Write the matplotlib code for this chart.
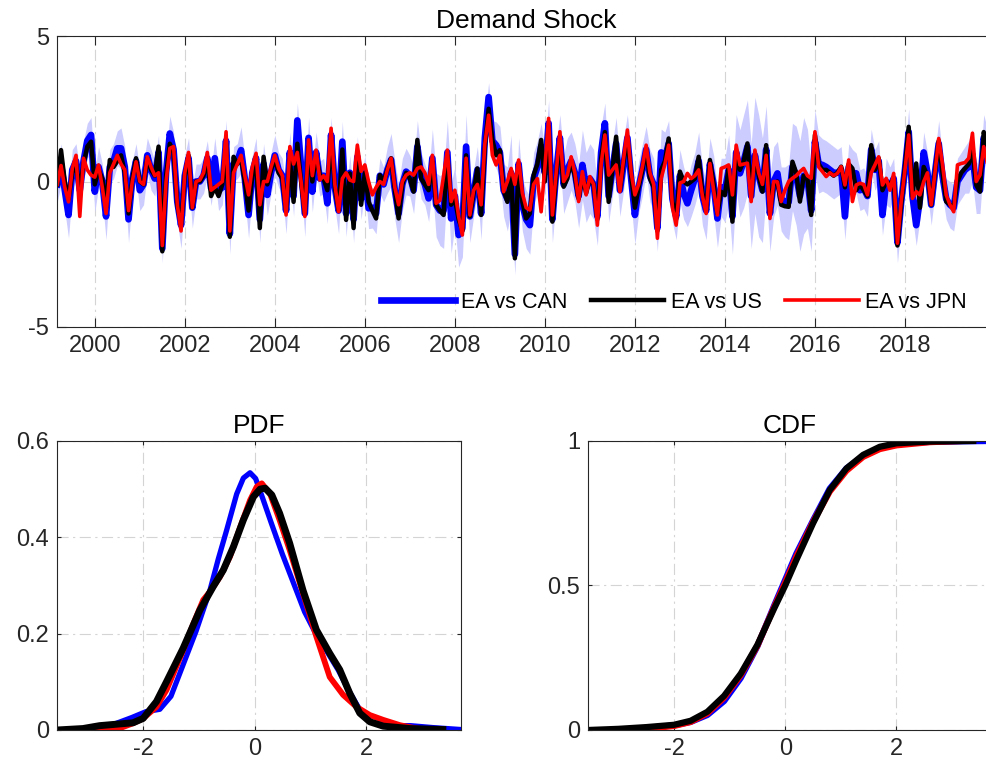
import numpy as np
import matplotlib
matplotlib.use('Agg')
import matplotlib.pyplot as plt

plt.rcParams['font.family'] = ['Liberation Sans', 'DejaVu Sans']
plt.rcParams['axes.unicode_minus'] = False

# monthly shocks, Feb 1999 onwards
ea_can = [
    -0.1, 0.6, -0.3, -1.15, 0.4, 0.7, -0.3, 0.7, 1.4, 1.6, -0.35, 0.5,
    0.0, -1.2, 0.5, 0.7, 1.14, 1.14, 0.5, -1.3, 0.1, 0.7, -0.3, -0.1,
    0.9, 0.4, 0.1, 1.0, -2.3, 0.3, 1.65, 1.1, -0.7, -1.5, 0.2, 0.8,
    -0.9, 0.0, 0.0, 0.2, 0.8, -0.23, 0.8, -0.3, -0.2, 1.4, -1.8, 0.6,
    0.7, 1.08, 0.1, -1.15, 0.3, 0.8, -1.3, 0.6, -0.46, 0.3, 0.9, 0.4,
    0.2, -1.0, 1.0, -0.5, 2.1, 0.5, -1.1, 1.5, -0.35, 1.0, 0.1, 0.2,
    -0.75, 1.6, -0.2, -1.0, 1.37, -1.1, 0.3, -1.3, 0.85, -0.6, 0.3, -0.92,
    -0.9, -1.1, 0.2, -0.1, 0.4, 0.75, -0.3, -1.1, -0.1, 0.34, 0.2, -0.3,
    1.2, 0.2, -0.1, -0.58, 0.8, -0.8, -1.0, -1.0, 1.0, -1.27, -0.5, -1.84,
    -1.6, 1.2, -1.2, -0.4, 0.4, -1.1, 1.5, 2.9, 1.4, 1.25, 1.0, -0.3,
    -0.6, 0.3, -2.5, 0.6, -0.8, -1.3, -1.5, 0.1, 0.5, 1.2, 0.3, 2.0,
    -1.3, 0.3, 1.5, -0.1, 0.4, 0.7, 0.3, -0.5, 0.57, -0.2, 0.1, -0.1,
    -1.2, 1.0, 2.0, -0.5, 0.4, 1.3, -0.3, 0.6, 1.5, 0.1, -1.15, -0.2,
    0.4, 1.1, 0.2, -0.1, -1.6, 1.0, 0.8, 1.3, -0.6, -1.2, 0.2, -0.4,
    -0.75, -0.3, 0.1, 0.7, -0.5, -1.0, 0.6, -0.1, -1.27, -0.2, -0.3, 0.4,
    -1.2, 1.0, 0.28, 0.7, 1.2, -0.5, 0.9, 0.2, -0.3, 1.1, -1.1, 0.0,
    0.28, -0.6, -0.7, -0.7, 0.5, 0.2, -0.5, 0.2, 0.1, -1.0, 1.37, 0.6,
    0.57, 0.5, 0.4, 0.3, 0.3, 0.4, -1.2, 0.5, 0.3, 0.28, -0.3, -0.23,
    -0.5, 1.1, 0.4, 0.7, -1.15, 0.0, -0.2, 0.1, -2.1, -0.7, 0.4, 1.7,
    -0.5, -1.5, -0.6, 1.0, 0.3, -0.8, 0.3, 1.3, 0.2, -0.6, -0.8, -0.9,
    0.0, 0.2, 0.4, 0.5, 0.9, -0.2, -0.3, 1.5, 1.0, 0.3, 0.5,
]
ea_us = [
    -0.1, 1.08, 0.0, -0.6, 0.3, 0.6, -0.3, 0.6, 1.2, 1.37, -0.1, 0.4,
    0.1, -0.9, 0.74, 0.5, 0.7, 0.9, 0.3, -1.1, 0.1, 0.8, 0.0, -0.1,
    0.8, 0.4, 0.2, 1.2, -2.4, 0.2, 1.3, 1.0, -0.8, -1.5, 0.2, 0.9,
    -0.9, 0.0, 0.0, 0.2, 0.8, -0.5, -0.2, -0.5, -0.1, 1.3, -1.9, 0.85,
    0.6, 0.8, 0.0, -1.0, 0.2, 0.7, -1.6, 0.85, -0.1, 0.4, 0.8, 0.3,
    0.1, -1.0, 0.8, -0.7, 1.3, 0.0, -1.1, 1.2, 0.0, 0.9, 0.22, 0.1,
    -0.3, 1.5, -0.2, -1.0, 1.1, -1.32, 0.28, -1.6, 0.9, -0.8, 0.3, -0.7,
    -1.0, -1.27, 0.22, 0.0, 0.4, 0.8, -0.3, -1.27, -0.1, 0.3, 0.1, -0.35,
    1.43, 0.1, -0.1, -0.3, 0.7, -0.8, -1.0, -1.15, 0.9, -0.8, -0.6, -1.3,
    -1.7, 0.9, -1.2, -0.4, 0.45, -1.15, 1.2, 2.5, 1.43, 0.9, 1.08, -0.3,
    -0.7, 0.3, -2.64, 0.6, -0.7, -1.27, -1.1, 0.22, 0.6, 1.43, 0.0, 1.9,
    -1.38, 0.2, 1.4, -0.18, 0.1, 0.7, 0.2, -0.6, 0.2, -0.4, 0.1, -0.1,
    -1.3, 0.8, 1.7, -0.7, 0.4, 1.54, -0.3, 0.7, 1.5, 0.2, -0.9, -0.2,
    0.4, 1.1, 0.1, -0.2, -1.7, 0.4, 0.7, 1.48, -0.7, -1.3, 0.34, 0.0,
    -0.1, 0.0, 0.1, 0.85, -0.4, -1.0, 0.74, -0.1, -1.1, -0.35, -0.47, 0.5,
    -1.38, 1.0, 0.4, 0.7, 1.31, -0.5, 0.9, 0.2, -0.35, 1.25, -1.1, -0.1,
    0.0, -0.8, -0.85, -0.87, 0.68, 0.3, -0.69, 0.2, 0.1, -1.15, 1.6, 0.6,
    0.4, 0.4, 0.3, 0.2, 0.3, 0.51, -0.2, 0.6, 0.45, -0.3, -0.1, -0.3,
    -0.5, 1.25, 0.4, 0.8, -0.3, 0.0, -0.12, 0.1, -2.2, -0.8, 0.5, 1.88,
    -0.5, 0.62, -0.9, 0.5, 0.2, -0.8, 0.3, 1.4, 0.3, -0.69, -0.8, -0.9,
    0.0, 0.3, 0.45, 0.6, 1.1, -0.12, -0.35, 1.7, 1.2, 0.4, 0.6,
]
ea_jpn = [
    -0.1, 0.55, -0.2, -0.7, 0.45, 0.9, -1.2, 0.8, 0.4, 0.22, 0.15, 0.57,
    -0.2, -1.1, 0.3, 0.6, 0.9, 0.6, 0.4, -1.0, 0.0, 0.68, 0.0, -0.1,
    0.85, 0.5, 0.2, 0.3, -2.2, 0.0, 1.14, 1.2, -0.8, -1.7, 0.3, 1.0,
    -0.9, 0.0, 0.05, 0.3, 1.0, -0.3, -0.2, -0.1, 0.0, 1.71, -1.7, 0.3,
    0.6, 0.9, 0.2, -0.46, 0.5, 0.97, -0.8, 0.0, 0.0, 0.5, 0.9, 0.45,
    0.2, -1.15, 1.2, 0.6, 1.0, 0.0, -1.2, 1.43, 0.2, 1.08, 0.05, 0.2,
    0.0, 1.83, -0.1, -1.04, 0.1, 0.3, 0.05, 0.0, 1.25, 0.35, 0.57, 0.0,
    -0.46, -0.2, 0.0, -0.1, 0.4, 0.8, -0.2, -0.8, 0.0, 0.22, 0.3, 0.22,
    0.45, 0.5, 0.3, -0.1, 0.9, -0.75, -0.65, 0.2, 1.08, -0.69, -0.3, -1.2,
    -1.84, 0.8, -1.15, -0.3, -0.1, -0.8, 1.3, 2.28, 0.9, 0.57, 0.9, -0.35,
    0.0, 0.45, -0.1, 0.74, -0.4, -0.9, -0.98, -0.1, 0.1, -1.04, 0.5, 2.17,
    -1.15, 0.3, 1.71, 0.0, 0.22, 0.85, 0.3, -0.69, 0.34, -0.46, 0.17, -0.1,
    -1.5, 0.6, 1.6, 0.22, 0.4, 0.57, -0.35, 0.8, 1.77, 0.3, -0.46, -0.1,
    0.5, 1.25, 0.3, -0.1, -1.95, 0.1, 0.6, 1.25, -0.9, -1.5, -0.05, 0.0,
    0.28, 0.1, 0.2, 0.4, -0.5, -1.1, 0.62, -0.3, -1.15, 0.45, 0.5, 0.57,
    -0.46, 1.25, 0.57, 0.6, 0.63, -0.69, 1.08, 0.3, -0.1, 0.9, -1.27, 0.0,
    -0.01, -0.69, -0.3, 0.0, 0.11, 0.2, 0.34, 0.45, 0.2, 0.11, 1.71, 0.5,
    0.34, 0.17, 0.3, 0.2, 0.28, 0.51, -0.12, 0.74, -0.69, -0.12, -0.06, -0.1,
    -0.46, 0.3, 0.57, 0.85, -0.12, 0.11, -0.3, 0.28, -2.12, -0.69, 0.4, 1.6,
    -0.58, -0.35, -0.46, 0.0, 0.3, -0.8, 0.3, 1.48, 0.6, -0.46, -0.8, -1.04,
    0.57, 0.62, 0.65, 0.8, 1.66, 0.0, 0.22, 1.2, 0.6, 0.3, 0.5,
]
# half-width of the shaded band around EA vs CAN
band_hw = [
    0.6, 0.7, 0.7, 0.8, 0.7, 0.6, 0.7, 0.7, 0.6, 0.6, 0.7, 0.7,
    0.6, 0.8, 0.6, 0.6, 0.6, 0.7, 0.7, 0.8, 0.6, 0.6, 0.7, 0.7,
    0.6, 0.7, 0.6, 0.6, 0.5, 0.6, 0.6, 0.6, 0.7, 0.8, 0.7, 0.7,
    0.7, 0.6, 0.6, 0.6, 0.6, 0.6, 0.7, 0.7, 0.6, 0.7, 0.7, 0.6,
    0.6, 0.8, 0.7, 0.8, 0.6, 0.7, 0.8, 0.7, 0.7, 0.7, 0.7, 0.6,
    0.6, 0.8, 0.7, 0.7, 0.6, 0.7, 0.8, 0.7, 0.7, 0.7, 0.6, 0.6,
    0.7, 0.6, 0.7, 0.8, 0.7, 0.8, 0.6, 0.8, 0.7, 0.7, 0.6, 0.7,
    0.7, 0.7, 0.6, 0.6, 0.8, 0.9, 1.0, 1.0, 0.9, 0.8, 0.7, 0.8,
    0.9, 0.8, 0.7, 0.8, 1.0, 1.1, 1.2, 1.3, 1.1, 1.2, 1.0, 1.1,
    1.0, 1.1, 0.9, 0.8, 0.8, 0.9, 0.7, 0.5, 0.7, 0.8, 0.9, 0.9,
    1.1, 1.3, 0.7, 0.9, 0.9, 1.0, 1.0, 0.9, 0.9, 0.8, 0.8, 0.8,
    0.8, 0.9, 0.8, 1.0, 1.1, 1.0, 1.0, 1.1, 1.2, 1.2, 1.2, 1.2,
    1.0, 0.9, 0.7, 0.9, 0.9, 0.9, 0.9, 0.9, 0.8, 0.9, 1.0, 0.9,
    0.9, 0.8, 0.9, 0.9, 0.8, 0.8, 0.9, 0.8, 0.8, 0.8, 0.9, 0.9,
    0.8, 0.9, 0.9, 1.0, 1.0, 1.0, 0.9, 1.0, 1.0, 1.0, 1.1, 1.2,
    1.3, 1.3, 1.5, 1.6, 1.6, 1.8, 2.0, 2.1, 1.8, 1.5, 1.3, 1.2,
    1.1, 1.1, 1.2, 1.3, 1.5, 1.7, 1.9, 2.0, 1.7, 1.4, 1.1, 1.0,
    0.9, 0.9, 0.9, 0.9, 0.8, 0.8, 0.8, 0.8, 0.8, 0.7, 0.7, 0.7,
    0.7, 0.7, 0.7, 0.7, 0.7, 0.8, 0.7, 0.7, 0.7, 0.7, 0.7, 0.8,
    0.7, 0.7, 0.7, 0.7, 0.7, 0.7, 0.7, 0.8, 0.7, 0.7, 0.8, 0.8,
    0.8, 0.8, 0.8, 0.9, 0.9, 0.9, 0.8, 0.8, 0.8, 0.8, 0.8,
]

# kernel density estimates
pdf_x_can = [-3.07, -2.8, -2.5, -2.2, -1.95, -1.7, -1.5, -1.3, -1.05, -0.8, -0.65,
             -0.5, -0.32, -0.2, -0.08, 0.02, 0.15, 0.3, 0.5, 0.7, 0.9, 1.1, 1.3,
             1.5, 1.7, 1.9, 2.1, 2.4, 2.8, 3.2, 3.7]
pdf_can = [0.0, 0.004, 0.013, 0.026, 0.038, 0.043, 0.07, 0.13, 0.205, 0.29, 0.355,
           0.415, 0.49, 0.523, 0.534, 0.522, 0.48, 0.43, 0.365, 0.305, 0.245, 0.2,
           0.163, 0.125, 0.08, 0.04, 0.016, 0.009, 0.009, 0.005, 0.001]
pdf_x_jpn = [-3.05, -2.48, -2.18, -2.0, -1.76, -1.58, -1.28, -1.1, -0.92, -0.8, -0.62,
             -0.44, -0.26, -0.08, 0.04, 0.13, 0.28, 0.45, 0.63, 0.87, 1.11, 1.35,
             1.59, 1.83, 2.07, 2.31, 2.61, 2.91, 3.15]
pdf_jpn = [0.0, 0.001, 0.014, 0.024, 0.048, 0.083, 0.166, 0.22, 0.27, 0.287, 0.318,
           0.36, 0.42, 0.477, 0.505, 0.512, 0.49, 0.436, 0.374, 0.284, 0.194, 0.11,
           0.073, 0.048, 0.031, 0.021, 0.01, 0.003, 0.0]
pdf_x_us = [-3.54, -3.08, -2.78, -2.48, -2.18, -2.0, -1.76, -1.58, -1.28, -0.98, -0.74,
            -0.56, -0.38, -0.2, -0.02, 0.1, 0.19, 0.31, 0.45, 0.63, 0.87, 1.11, 1.35,
            1.53, 1.71, 1.89, 2.07, 2.31, 2.79, 3.38]
pdf_us = [0.0, 0.003, 0.009, 0.012, 0.015, 0.024, 0.059, 0.1, 0.17, 0.249, 0.298,
          0.332, 0.38, 0.436, 0.484, 0.5, 0.502, 0.488, 0.45, 0.388, 0.29, 0.208, 0.159,
          0.125, 0.076, 0.035, 0.017, 0.008, 0.003, 0.001]

# cumulative distributions
cdf_x_can = [-3.07, -2.5, -2.0, -1.7, -1.4, -1.1, -0.8, -0.5, -0.2, 0.0, 0.2, 0.5,
             0.8, 1.1, 1.4, 1.7, 2.0, 2.6, 3.2, 3.7]
cdf_can = [0.0, 0.007, 0.016, 0.028, 0.052, 0.1, 0.18, 0.29, 0.43, 0.52, 0.61, 0.725,
           0.835, 0.905, 0.948, 0.975, 0.99, 0.997, 0.999, 1.0]
cdf_x_jpn = [-3.05, -2.5, -2.0, -1.7, -1.4, -1.1, -0.8, -0.5, -0.2, 0.0, 0.2, 0.5,
             0.8, 1.1, 1.4, 1.7, 2.0, 2.6, 3.15]
cdf_jpn = [0.0, 0.004, 0.014, 0.028, 0.058, 0.112, 0.19, 0.292, 0.425, 0.51, 0.6, 0.72,
           0.825, 0.897, 0.945, 0.972, 0.985, 0.996, 1.0]
cdf_x_us = [-3.54, -3.0, -2.5, -2.0, -1.7, -1.4, -1.1, -0.8, -0.5, -0.2, 0.0, 0.2,
            0.5, 0.8, 1.1, 1.4, 1.7, 2.0, 2.6, 3.38]
cdf_us = [0.0, 0.004, 0.01, 0.018, 0.032, 0.063, 0.118, 0.195, 0.295, 0.42, 0.5, 0.588,
          0.715, 0.83, 0.905, 0.952, 0.98, 0.992, 0.998, 1.0]

labels = ['EA vs CAN', 'EA vs US', 'EA vs JPN']
year_ticks = list(range(2000, 2019, 2))

BLUE = '#0000ff'
RED = '#ff0000'
BLACK = '#000000'
AX_COLOR = '#262626'


def style_axes(ax, ticklen):
    ax.tick_params(direction='in', top=True, right=True, length=ticklen,
                   width=0.8, labelsize=17, colors=AX_COLOR, pad=6)
    for sp in ax.spines.values():
        sp.set_color(AX_COLOR)
        sp.set_linewidth(0.8)
    ax.grid(True, color='#d4d4d4', linestyle=(0, (10, 4, 2, 4)), linewidth=0.8)
    ax.set_axisbelow(True)


fig = plt.figure(figsize=(9.86, 7.78), dpi=100)

# time series panel
t = 1999 + (np.arange(len(ea_can)) + 2) / 12.0
can = np.array(ea_can)
hw = np.array(band_hw)

ax1 = fig.add_axes([0.0581, 0.5797, 0.951, 0.374])
ax1.fill_between(t, can - hw, can + hw, color='#ccccff', linewidth=0)
ax1.plot(t, ea_can, color=BLUE, lw=4.8, label=labels[0])
ax1.plot(t, ea_us, color=BLACK, lw=3.2, label=labels[1])
ax1.plot(t, ea_jpn, color=RED, lw=2.6, label=labels[2])
ax1.set_xlim(t[0], t[-1])
ax1.set_ylim(-5, 5)
ax1.set_yticks([-5, 0, 5])
ax1.set_xticks(year_ticks)
ax1.set_xticklabels([str(y) for y in year_ticks])
style_axes(ax1, 6.5)
ax1.set_title('Demand Shock', fontsize=19, pad=6)
ax1.legend(ncol=3, loc='lower right', bbox_to_anchor=(0.979, 0.02), borderaxespad=0,
           frameon=False, fontsize=15.5, handlelength=3.4, handletextpad=0.3,
           columnspacing=1.1)

# density panel
ax2 = fig.add_axes([0.0581, 0.0617, 0.4091, 0.3715])
ax2.plot(pdf_x_can, pdf_can, color=BLUE, lw=3.8)
ax2.plot(pdf_x_jpn, pdf_jpn, color=RED, lw=4.2)
ax2.plot(pdf_x_us, pdf_us, color=BLACK, lw=5.0)
ax2.set_xlim(-3.54, 3.7)
ax2.set_ylim(0, 0.6)
ax2.set_xticks([-2, 0, 2])
ax2.set_yticks([0, 0.2, 0.4, 0.6])
ax2.set_yticklabels(['0', '0.2', '0.4', '0.6'])
style_axes(ax2, 3)
ax2.set_title('PDF', fontsize=19, pad=6)

# cumulative panel
ax3 = fig.add_axes([0.5967, 0.0617, 0.4084, 0.3715])
ax3.plot(cdf_x_can, cdf_can, color=BLUE, lw=4.5)
ax3.plot(cdf_x_jpn, cdf_jpn, color=RED, lw=4.5)
ax3.plot(cdf_x_us, cdf_us, color=BLACK, lw=4.5)
ax3.set_xlim(-3.54, 3.7)
ax3.set_ylim(0, 1)
ax3.set_xticks([-2, 0, 2])
ax3.set_yticks([0, 0.5, 1])
ax3.set_yticklabels(['0', '0.5', '1'])
style_axes(ax3, 3)
ax3.set_title('CDF', fontsize=19, pad=6)

fig.savefig('out.png', dpi=100)
plt.close(fig)
